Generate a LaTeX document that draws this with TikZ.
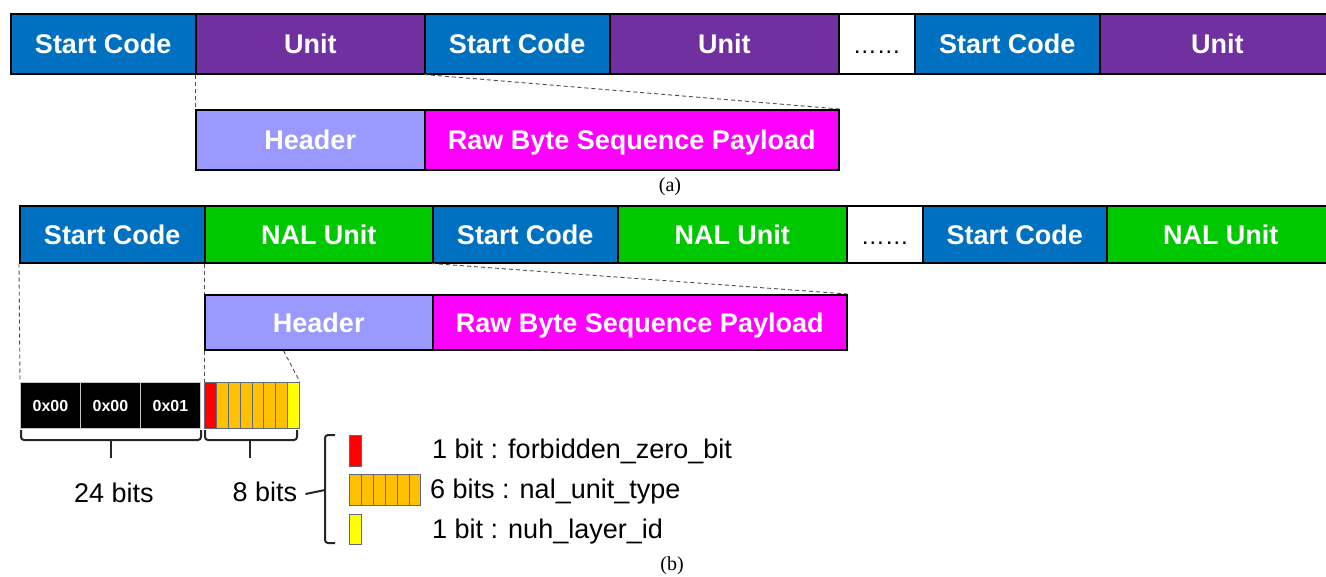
\documentclass[tikz,border=0pt]{standalone}
\usepackage{fontspec}
\setmainfont{Liberation Sans}
\newfontfamily\capfont{Liberation Serif}
\usetikzlibrary{calc}
\definecolor{scblue}{RGB}{0,112,192}
\definecolor{unitpurple}{RGB}{112,48,160}
\definecolor{nalgreen}{RGB}{0,200,0}
\definecolor{hdrviolet}{RGB}{153,153,255}
\definecolor{rbspmagenta}{RGB}{255,0,255}
\definecolor{bitred}{RGB}{255,0,0}
\definecolor{bitorange}{RGB}{255,192,0}
\definecolor{bityellow}{RGB}{255,255,0}
\definecolor{bitedge}{RGB}{95,105,130}
\begin{document}
\begin{tikzpicture}[x=1pt,y=-1pt,
  seg/.style={draw=black,line width=1.5pt,inner sep=0pt,anchor=north west,
    text height=19.5pt,text depth=0pt,
    text=white,font=\fontsize{27}{32}\selectfont\bfseries},
  sc/.style={seg,fill=scblue,minimum width=185pt},
  unit/.style={seg,fill=unitpurple,minimum width=229pt},
  nal/.style={seg,fill=nalgreen,minimum width=229pt},
  gap/.style={seg,fill=white,text=black,minimum width=76pt,font=\fontsize{24}{28}\selectfont},
  hdr/.style={seg,fill=hdrviolet,minimum width=229pt},
  rbsp/.style={seg,fill=rbspmagenta,minimum width=414pt},
  rowa/.style={minimum height=60pt},
  rowb/.style={minimum height=57pt},
  byte/.style={fill=black,draw=gray!45,line width=1pt,inner sep=0pt,anchor=north west,
    minimum width=60pt,minimum height=46pt,text=white,font=\fontsize{16}{18}\selectfont\bfseries},
  bit/.style={draw=bitedge,line width=1pt,inner sep=0pt,anchor=north west,
    minimum width=11.875pt,minimum height=46pt},
  key/.style={draw=bitedge,line width=1pt,inner sep=0pt,anchor=north west,
    minimum width=11.9pt,minimum height=31pt},
  zoomline/.style={dashed,dash pattern=on 4pt off 3pt,line width=0.9pt,draw=black!70},
  bracket/.style={line width=2pt,draw=black!85,rounded corners=3pt},
  lbl/.style={inner sep=0pt,font=\fontsize{27}{32}\selectfont},
  captext/.style={inner sep=0pt,font=\capfont\fontsize{20}{22}\selectfont}]
\useasboundingbox (0,0) rectangle (1326,576);
\clip (0,0) rectangle (1326,576);

% ---- (a) generic stream ----
\node[sc,rowa]   (a1) at (10,13)   {Start Code};
\node[unit,rowa] (a2) at (195,13)  {Unit};
\node[sc,rowa]   (a3) at (424,13)  {Start Code};
\node[unit,rowa] (a4) at (609,13)  {Unit};
\node[gap,rowa]  (a5) at (838,13)  {……};
\node[sc,rowa]   (a6) at (914,13)  {Start Code};
\node[unit,rowa,minimum width=235pt] (a7) at (1099,13) {Unit};

\node[hdr,rowa]  (ah) at (195,109) {Header};
\node[rbsp,rowa] (ap) at (424,109) {Raw Byte Sequence Payload};

\draw[zoomline] (a2.south west) -- (ah.north west);
\draw[zoomline] (a3.south west) -- (ap.north east);

\node[captext] (capa) at (670,187) {(a)};

% ---- (b) NAL stream ----
\node[sc,rowb]  (b1) at (19,205)  {Start Code};
\node[nal,rowb,minimum width=228pt] (b2) at (204,205) {NAL Unit};
\node[sc,rowb]  (b3) at (432,205) {Start Code};
\node[nal,rowb] (b4) at (617,205) {NAL Unit};
\node[gap,rowb] (b5) at (846,205) {……};
\node[sc,rowb,minimum width=184pt] (b6) at (922,205) {Start Code};
\node[nal,rowb,minimum width=228pt] (b7) at (1106,205) {NAL Unit};

\node[hdr,minimum width=228pt,minimum height=55pt] (bh) at (204,294) {Header};
\node[rbsp,minimum height=55pt] (bp) at (432,294) {Raw Byte Sequence Payload};

\draw[zoomline] (b2.south west) -- (bh.north west);
\draw[zoomline] (b3.south west) -- (bp.north east);

% start code bytes
\node[byte] (y1) at (20,382)  {0x00};
\node[byte] (y2) at (80,382)  {0x00};
\node[byte] (y3) at (140,382) {0x01};

% header bits
\node[bit,fill=bitred] (h0) at (204,382) {};
\foreach \i in {1,...,6}{
  \node[bit,fill=bitorange] (h\i) at ({204+11.875*\i},382) {};
}
\node[bit,fill=bityellow] (h7) at ({204+11.875*7},382) {};

\draw[zoomline] (b1.south west) -- (y1.north west);
\draw[zoomline] (bh.south west) -- (h0.north west);
\draw[zoomline] ($(bh.south west)!0.346!(bh.south east)$) -- (h7.north east);

% brackets under bytes and bits
\draw[bracket] (21,430) -- (21,440) -- (201,440) -- (201,430);
\draw[line width=2pt,draw=black!85] (111,440) -- (111,458);
\draw[bracket] (205,430) -- (205,440) -- (297,440) -- (297,430);
\draw[line width=2pt,draw=black!85] (250,440) -- (250,458);

\node[lbl] (l24) at (114,493) {24 bits};
\node[lbl] (l8)  at (265,492) {8 bits};

% legend bracket
\draw[bracket] (335,435) -- (325,435) -- (325,543) -- (335,543);
\draw[line width=2pt,draw=black!85] (l8.east) ++(8pt,-2pt) -- (325,490);

% legend keys
\node[key,fill=bitred] (k1) at (349,435) {};
\foreach \i in {0,...,5}{
  \node[key,fill=bitorange] (k2\i) at ({349+11.9*\i},474) {};
}
\node[key,fill=bityellow,minimum height=30pt] (k3) at (349,514) {};

\node[lbl,anchor=west] (t1) at (432,451) {1 bit : forbidden\_zero\_bit};
\node[lbl,anchor=west] (t2) at (430,492) {6 bits : nal\_unit\_type};
\node[lbl,anchor=west] (t3) at (432,532) {1 bit : nuh\_layer\_id};

\node[captext] (capb) at (672,566) {(b)};
\end{tikzpicture}
\end{document}
